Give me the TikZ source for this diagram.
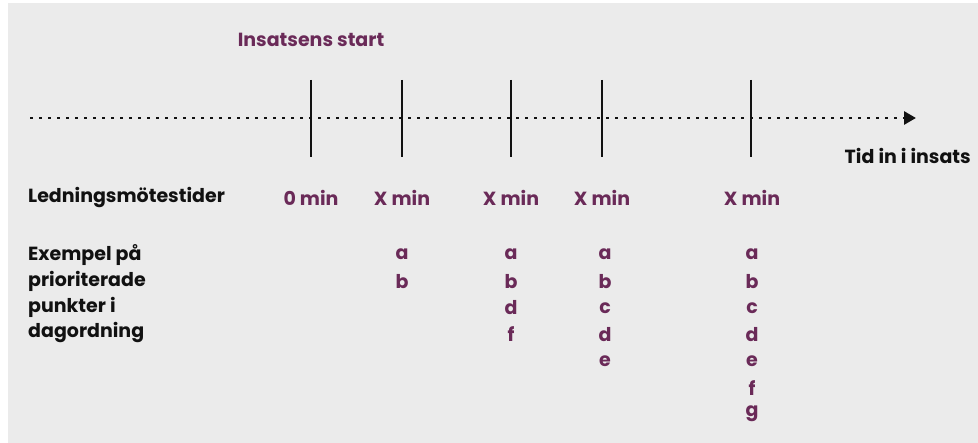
\documentclass[tikz,border=0pt]{standalone}
\usepackage{fontspec}
\setmainfont{Poppins}
\usetikzlibrary{arrows.meta}
\definecolor{bg}{HTML}{EBEBEB}
\definecolor{plum}{HTML}{6A2A58}
\definecolor{ink}{HTML}{111111}
\tikzset{
  lbl/.style={font=\fontsize{19}{22}\selectfont\bfseries, text=ink, inner sep=0pt},
  ptxt/.style={font=\fontsize{19}{22}\selectfont\bfseries, text=plum, inner sep=0pt},
  tick/.style={line width=2.8pt, draw=ink},
  axis/.style={line width=2.8pt, draw=ink, dash pattern=on 2.6pt off 6.4pt, -{Triangle[length=12pt,width=13pt]}},
}
\begin{document}
\begin{tikzpicture}[x=1pt,y=-1pt]
\useasboundingbox (0,0) rectangle (978,443);
\fill[white] (0,0) rectangle (978,443);
\fill[bg] (8,3) rectangle (978,443);
% axis
\coordinate (s) at (30,118);
\coordinate (e) at (916,118);
\draw[axis] (s) -- (e);
% ticks
\foreach \n/\x in {t0/311,t1/402,t2/511,t3/602,t4/751}{
  \coordinate (\n top) at (\x,80);
  \coordinate (\n bot) at (\x,157);
  \draw[tick] (\n top) -- (\n bot);
}
\node[ptxt] (start) at (311,40) {Insatsens start};
\node[lbl, anchor=east] (tid) at (971,156) {Tid in i insats};
% row 1
\node[lbl, anchor=west] (lm) at (28,198) {Ledningsmötestider};
\node[ptxt] (m0) at (311,198) {0 min};
\node[ptxt] (m1) at (402,198) {X min};
\node[ptxt] (m2) at (511,198) {X min};
\node[ptxt] (m3) at (602,198) {X min};
\node[ptxt] (m4) at (752,198) {X min};
% left labels
\node[lbl, anchor=west] (ex1) at (28,255) {Exempel på};
\node[lbl, anchor=west] (ex2) at (28,281) {prioriterade};
\node[lbl, anchor=west] (ex3) at (28,307) {punkter i};
\node[lbl, anchor=west] (ex4) at (28,333) {dagordning};
% letters
\foreach \l [count=\i] in {a,b}{\node[ptxt] (c1\l) at (402,228+26.6*\i) {\l};}
\foreach \l [count=\i] in {a,b,d,f}{\node[ptxt] (c2\l) at (511,228+26.6*\i) {\l};}
\foreach \l [count=\i] in {a,b,c,d,e}{\node[ptxt] (c3\l) at (605,228+26.6*\i) {\l};}
\foreach \l [count=\i] in {a,b,c,d,e,f,g}{\node[ptxt] (c4\l) at (752,228+26.6*\i) {\l};}
\end{tikzpicture}
\end{document}
